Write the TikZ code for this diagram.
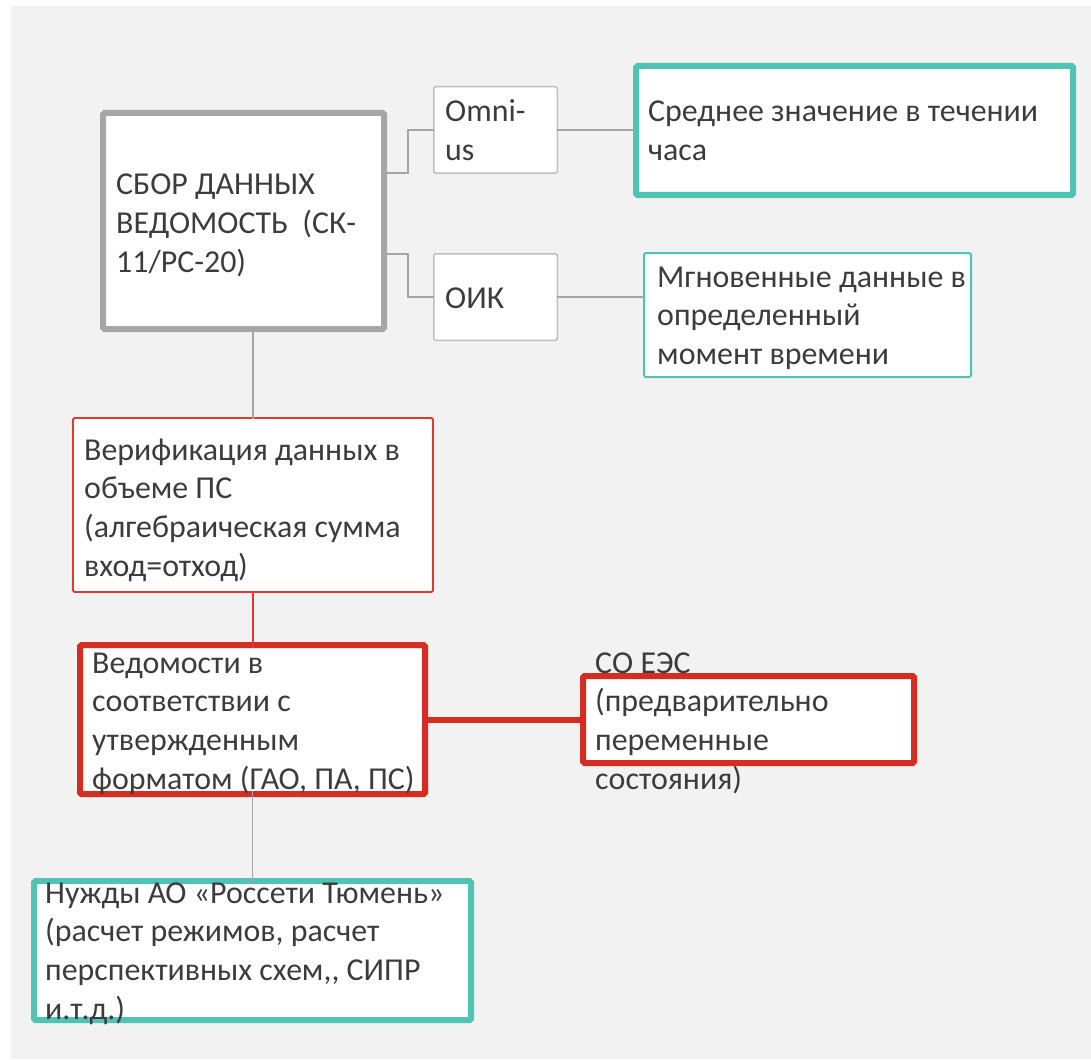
\documentclass[tikz,border=0pt]{standalone}
\usepackage{fontspec}
\setmainfont{Carlito}
\definecolor{bggray}{HTML}{F2F2F2}
\definecolor{boxgray}{HTML}{A6A6A6}
\definecolor{thingray}{HTML}{BFBFBF}
\definecolor{linegray}{HTML}{A6A6A6}
\definecolor{teal}{HTML}{4FC4B4}
\definecolor{redc}{HTML}{D62D22}
\definecolor{redthin}{HTML}{DE3A30}
\definecolor{txt}{HTML}{3C3C3C}
\newcommand\tline[1]{\hbox{#1}}
\tikzset{
  box/.style={draw, fill=white, inner sep=0pt, outer sep=0pt, rounded corners=1.5pt},
  thickgray/.style={box, draw=boxgray, line width=6pt},
  thingraybox/.style={box, draw=thingray, line width=1.5pt},
  thickteal/.style={box, draw=teal, line width=6pt},
  thinteal/.style={box, draw=teal, line width=2pt},
  thinred/.style={box, draw=redthin, line width=1.8pt},
  thickred/.style={box, draw=redc, line width=6pt},
  lbl/.style={anchor=base west, inner sep=0pt, text=txt, font=\fontsize{31.9}{38.8}\selectfont},
  conn/.style={draw=linegray, line width=1.5pt},
  connred/.style={draw=redthin, line width=1.2pt},
  connredthick/.style={draw=redc, line width=6pt},
}
\begin{document}
\begin{tikzpicture}[x=1pt,y=-1pt]
\useasboundingbox (0,0) rectangle (1091,1059);
\fill[white] (0,0) rectangle (1091,1059);
\fill[bggray] (11,6) rectangle (1091,1059);

% boxes
\node[thickgray, minimum width=281pt, minimum height=216pt] (sbor) at (243.5,221) {};
\node[thingraybox, minimum width=123.5pt, minimum height=86.5pt] (omni) at (495.5,130) {};
\node[thingraybox, minimum width=123.5pt, minimum height=86.5pt] (oik) at (495.5,297) {};
\node[thickteal, minimum width=437pt, minimum height=129pt] (sred) at (854.5,130.5) {};
\node[thinteal, minimum width=327pt, minimum height=124pt] (mgn) at (807.5,315) {};
\node[thinred, minimum width=360pt, minimum height=174pt] (verif) at (253,505) {};
\node[thickred, minimum width=345pt, minimum height=149pt] (ved) at (252.5,719.5) {};
\node[thickred, minimum width=331pt, minimum height=87pt] (soees) at (748.5,719.5) {};
\node[thickteal, minimum width=437pt, minimum height=139pt] (nuzh) at (252.5,950.5) {};

% connectors
\draw[conn] ([xshift=3pt]sbor.east |- omni.south) -- ++(21,0) |- (omni.west);
\draw[conn] ([xshift=3pt]sbor.east |- oik.north) -- ++(21,0) |- (oik.west);
\draw[conn] (omni.east) -- ([xshift=-3pt]omni.east -| sred.west);
\draw[conn] (oik.east) -- ([xshift=-1pt]oik.east -| mgn.west);
\draw[conn] ([yshift=3pt]verif.north |- sbor.south) -- ([yshift=-1pt]verif.north);
\draw[connred] ([yshift=1pt]verif.south) -- ([yshift=-3pt]verif.south |- ved.north);
\draw[connredthick] ([xshift=3pt]ved.east) -- ([xshift=-3pt]soees.west);
\draw[conn] ([yshift=3pt]ved.south) -- ([yshift=-3pt]nuzh.north);

% texts
\node[lbl] (tsbor) at (116,195) {\vtop{\tline{СБОР ДАННЫХ}\tline{ВЕДОМОСТЬ\ \ (СК-}\tline{11/РС-20)}}};
\node[lbl] (tomni) at (445,122) {\vtop{\tline{Omni-}\tline{us}}};
\node[lbl] (toik) at (445,308) {ОИК};
\node[lbl] (tsred) at (648,122) {\vtop{\tline{Среднее значение в течении}\tline{часа}}};
\node[lbl] (tmgn) at (657,287) {\vtop{\tline{Мгновенные данные в}\tline{определенный}\tline{момент времени}}};
\node[lbl] (tverif) at (84,460) {\vtop{\tline{Верификация данных в}\tline{объеме ПС}\tline{(алгебраическая сумма}\tline{вход=отход)}}};
\node[lbl] (tved) at (92,673) {\vtop{\tline{Ведомости в}\tline{соответствии с}\tline{утвержденным}\tline{форматом (ГАО, ПА, ПС)}}};
\node[lbl] (tsoees) at (595,673) {\vtop{\tline{СО ЕЭС}\tline{(предварительно}\tline{переменные}\tline{состояния)}}};
\node[lbl] (tnuzh) at (45,903) {\vtop{\tline{Нужды АО «Россети Тюмень»}\tline{(расчет режимов, расчет}\tline{перспективных схем,{},{} СИПР}\tline{и.т.д.)}}};
\end{tikzpicture}
\end{document}
